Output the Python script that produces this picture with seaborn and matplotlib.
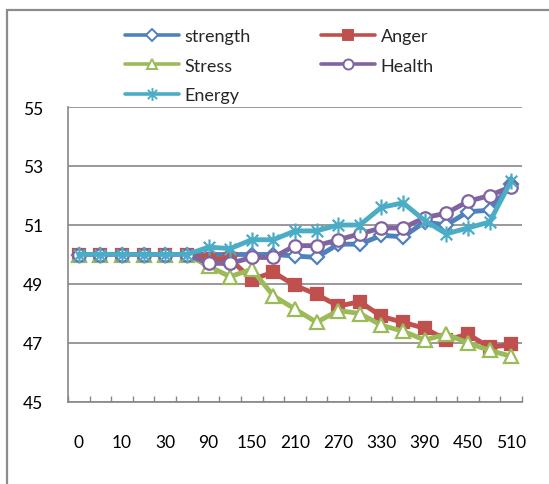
import matplotlib
matplotlib.use("Agg")
import matplotlib.pyplot as plt
from matplotlib.lines import Line2D
from matplotlib.path import Path
import numpy as np
import pandas as pd
import seaborn as sns

# Minutes at which each score was recorded
categories = ["0", "5", "10", "20", "30", "60", "90", "120", "150", "180", "210",
              "240", "270", "300", "330", "360", "390", "420", "450", "480", "510"]

strength = [50, 50, 50, 50, 50, 50, 50.0, 50.0, 50.0, 50.0, 49.95, 49.9, 50.35, 50.35,
            50.65, 50.6, 51.1, 51.0, 51.45, 51.5, 52.4]
anger = [50, 50, 50, 50, 50, 50, 49.85, 49.85, 49.15, 49.4, 48.95, 48.65, 48.25, 48.4,
         47.9, 47.7, 47.5, 47.1, 47.3, 46.85, 46.95]
stress = [50, 50, 50, 50, 50, 50, 49.6, 49.25, 49.5, 48.6, 48.15, 47.7, 48.1, 48.0,
          47.6, 47.4, 47.1, 47.3, 47.0, 46.75, 46.55]
health = [50, 50, 50, 50, 50, 50, 49.7, 49.7, 49.9, 49.9, 50.3, 50.3, 50.5, 50.7,
          50.9, 50.9, 51.25, 51.4, 51.8, 52.0, 52.3]
energy = [50, 50, 50, 50, 50, 50, 50.25, 50.2, 50.5, 50.5, 50.8, 50.8, 51.0, 51.0,
          51.6, 51.75, 51.15, 50.7, 50.9, 51.1, 52.5]

y_ticks = [45, 47, 49, 51, 53, 55]

sns.set_theme(style="white")
plt.rcParams["font.family"] = ["Lato", "DejaVu Sans"]

GRAY = "#878787"

# Asterisk marker: vertical stroke plus an X
asterisk = Path(
    [(0, -1), (0, 1), (-0.72, -0.72), (0.72, 0.72), (-0.72, 0.72), (0.72, -0.72)],
    [Path.MOVETO, Path.LINETO, Path.MOVETO, Path.LINETO, Path.MOVETO, Path.LINETO],
)

series = [
    ("strength", strength, "#4F81BD", "D", 7.5, "white"),
    ("Anger", anger, "#C0504D", "s", 9.0, "#C0504D"),
    ("Stress", stress, "#9BBB59", "^", 9.5, "white"),
    ("Health", health, "#8064A2", "o", 9.0, "white"),
    ("Energy", energy, "#4BACC6", asterisk, 11.5, "none"),
]

pos = np.arange(len(categories))

fig = plt.figure(figsize=(5.49, 4.85), dpi=100)
ax = fig.add_axes([68 / 549, 1 - 403 / 485, 454 / 549, 295 / 485])

for z, (name, vals, color, marker, ms, face) in enumerate(series):
    df = pd.DataFrame({"pos": pos, "value": vals})
    sns.lineplot(data=df, x="pos", y="value", ax=ax, color=color, lw=3.5,
                 marker=marker, markersize=ms, markerfacecolor=face,
                 markeredgecolor=color, markeredgewidth=1.6, zorder=3 + z,
                 legend=False)

ax.set_xlim(-0.5, len(categories) - 0.5)
ax.set_ylim(45, 55)
ax.set_yticks(y_ticks)
ax.set_yticklabels([str(t) for t in y_ticks])
ax.set_xticks(pos[::2])
ax.set_xticklabels(categories[::2])
ax.set_xticks(np.arange(len(categories) + 1) - 0.5, minor=True)
ax.set_xlabel("")
ax.set_ylabel("")

ax.grid(axis="y", color=GRAY, lw=1.2)
ax.set_axisbelow(True)
for s in ("top", "right"):
    ax.spines[s].set_visible(False)
for s in ("left", "bottom"):
    ax.spines[s].set_color(GRAY)
    ax.spines[s].set_linewidth(1.2)

ax.tick_params(axis="x", which="major", length=0, pad=23, labelsize=12.5, colors="black")
ax.tick_params(axis="x", which="minor", length=4, width=1, direction="in", color=GRAY,
               bottom=True)
ax.tick_params(axis="y", length=0, pad=18, labelsize=12.5, colors="black")

# Legend: column-major order so the two columns read strength/Stress/Energy and Anger/Health
order = [0, 2, 4, 1, 3]
handles = []
for i in order:
    name, vals, color, marker, ms, face = series[i]
    handles.append(Line2D([], [], color=color, lw=2.6, marker=marker, markersize=ms * 0.8,
                          markerfacecolor=face, markeredgecolor=color,
                          markeredgewidth=1.4, label=name))
fig.legend(handles=handles, ncol=2, loc="upper left", bbox_to_anchor=(125 / 549, 1 - 29 / 485),
           frameon=False, fontsize=13, handlelength=3.0, handletextpad=0.3,
           columnspacing=3.9, labelspacing=0.75, borderpad=0, borderaxespad=0)

# Outer chart border (top and left edges)
fig.add_artist(Line2D([7 / 549, 1.0], [1 - 11 / 485, 1 - 11 / 485], color="#8C8C8C", lw=1.6,
                      transform=fig.transFigure))
fig.add_artist(Line2D([7 / 549, 7 / 549], [0.0, 1 - 11 / 485], color="#8C8C8C", lw=1.6,
                      transform=fig.transFigure))

fig.savefig("out.png", dpi=100)
